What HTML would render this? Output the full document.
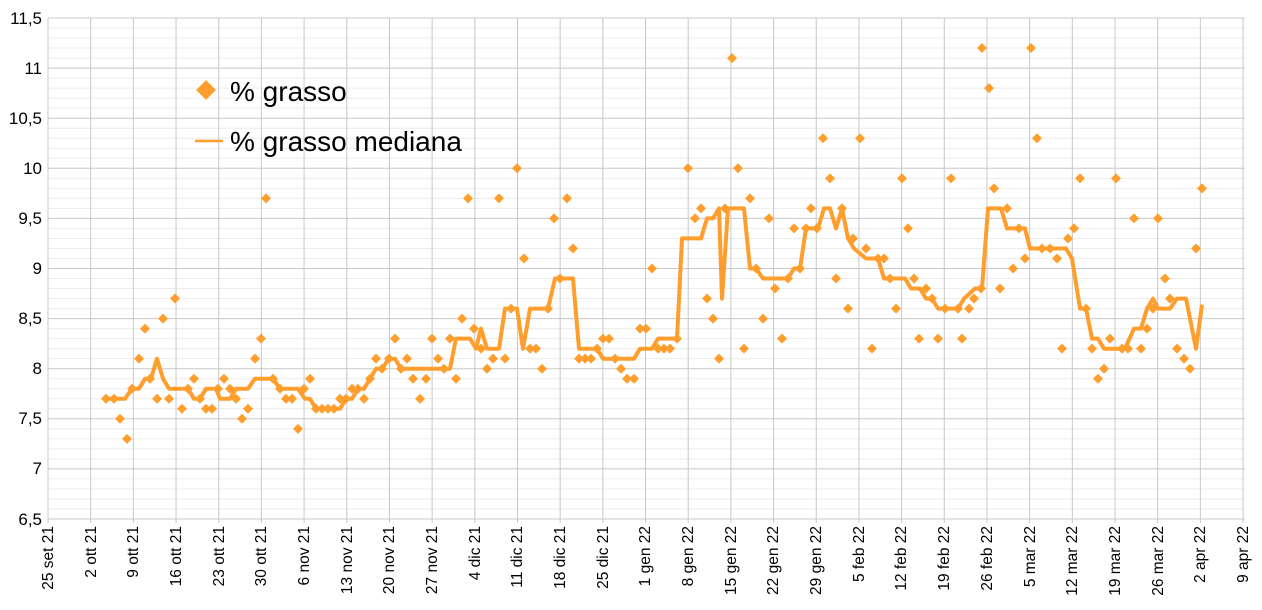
<!DOCTYPE html>
<html><head><meta charset="utf-8"><style>body{margin:0;background:#fff}svg{display:block}text{font-family:"Liberation Sans",sans-serif;fill:#000}</style></head>
<body>
<svg id="s" width="1262" height="610" xmlns="http://www.w3.org/2000/svg">
<g id="grid"></g>
<g font-size="17" text-anchor="end">
<text x="42" y="24">11,5</text><text x="42" y="74">11</text><text x="42" y="124">10,5</text><text x="42" y="174">10</text><text x="42" y="224">9,5</text><text x="42" y="274">9</text><text x="42" y="324">8,5</text><text x="42" y="374">8</text><text x="42" y="424">7,5</text><text x="42" y="474">7</text><text x="42" y="525">6,5</text>
</g>
<g id="xl" font-size="15.5" text-anchor="end">
<text transform="translate(53,526) rotate(-90)">25 set 21</text>
<text transform="translate(96,526) rotate(-90)">2 ott 21</text>
<text transform="translate(138,526) rotate(-90)">9 ott 21</text>
<text transform="translate(181,526) rotate(-90)">16 ott 21</text>
<text transform="translate(224,526) rotate(-90)">23 ott 21</text>
<text transform="translate(266,526) rotate(-90)">30 ott 21</text>
<text transform="translate(309,526) rotate(-90)">6 nov 21</text>
<text transform="translate(352,526) rotate(-90)">13 nov 21</text>
<text transform="translate(394,526) rotate(-90)">20 nov 21</text>
<text transform="translate(437,526) rotate(-90)">27 nov 21</text>
<text transform="translate(480,526) rotate(-90)">4 dic 21</text>
<text transform="translate(522,526) rotate(-90)">11 dic 21</text>
<text transform="translate(565,526) rotate(-90)">18 dic 21</text>
<text transform="translate(608,526) rotate(-90)">25 dic 21</text>
<text transform="translate(650,526) rotate(-90)">1 gen 22</text>
<text transform="translate(693,526) rotate(-90)">8 gen 22</text>
<text transform="translate(736,526) rotate(-90)">15 gen 22</text>
<text transform="translate(778,526) rotate(-90)">22 gen 22</text>
<text transform="translate(821,526) rotate(-90)">29 gen 22</text>
<text transform="translate(864,526) rotate(-90)">5 feb 22</text>
<text transform="translate(906,526) rotate(-90)">12 feb 22</text>
<text transform="translate(949,526) rotate(-90)">19 feb 22</text>
<text transform="translate(992,526) rotate(-90)">26 feb 22</text>
<text transform="translate(1035,526) rotate(-90)">5 mar 22</text>
<text transform="translate(1077,526) rotate(-90)">12 mar 22</text>
<text transform="translate(1120,526) rotate(-90)">19 mar 22</text>
<text transform="translate(1163,526) rotate(-90)">26 mar 22</text>
<text transform="translate(1205,526) rotate(-90)">2 apr 22</text>
<text transform="translate(1248,526) rotate(-90)">9 apr 22</text>
</g>
<g id="data"></g>
<rect x="199" y="83" width="14" height="14" fill="#ff9e2c" transform="rotate(45 206 90)"/>
<text x="230" y="101" font-size="28">% grasso</text>
<line x1="195" y1="141" x2="223" y2="141" stroke="#ff9e2c" stroke-width="2.5"/>
<text x="230" y="151" font-size="28">% grasso mediana</text>
</svg>
<script>
var NS="http://www.w3.org/2000/svg";
function Y(v){return 519-(v-6.5)*100.2;}
function el(p,t,a){var e=document.createElementNS(NS,t);for(var k in a)e.setAttribute(k,a[k]);p.appendChild(e);return e;}
var g=document.getElementById("grid");
for(var i=0;i<=50;i++){var y=Y(6.5+i*0.1);el(g,"line",{x1:48,x2:1245,y1:y,y2:y,stroke:i%5?"#ececec":"#c8c8c8","stroke-width":1});}
for(var k=0;k<=28;k++){var x=48+42.68*k;el(g,"line",{x1:x,x2:x,y1:18,y2:523,stroke:"#c8c8c8","stroke-width":1});}
var pts=[[106,7.7],[114,7.7],[120,7.5],[127,7.3],[132,7.8],[139,8.1],[145,8.4],[150,7.9],[157,7.7],[163,8.5],[169,7.7],[175,8.7],[182,7.6],[188,7.8],[194,7.9],[200,7.7],[206,7.6],[212,7.6],[218,7.8],[224,7.9],[230,7.8],[236,7.7],[242,7.5],[248,7.6],[255,8.1],[261,8.3],[266,9.7],[273,7.9],[280,7.8],[286,7.7],[292,7.7],[298,7.4],[304,7.8],[310,7.9],[316,7.6],[322,7.6],[328,7.6],[334,7.6],[340,7.7],[346,7.7],[352,7.8],[358,7.8],[364,7.7],[370,7.9],[376,8.1],[382,8.0],[389,8.1],[395,8.3],[401,8.0],[407,8.1],[413,7.9],[420,7.7],[426,7.9],[432,8.3],[438,8.1],[444,8.0],[450,8.3],[456,7.9],[462,8.5],[468,9.7],[474,8.4],[481,8.2],[487,8.0],[493,8.1],[499,9.7],[505,8.1],[511,8.6],[517,10.0],[524,9.1],[530,8.2],[536,8.2],[542,8.0],[548,8.6],[554,9.5],[560,8.9],[567,9.7],[573,9.2],[579,8.1],[585,8.1],[591,8.1],[597,8.2],[603,8.3],[609,8.3],[615,8.1],[621,8.0],[627,7.9],[634,7.9],[640,8.4],[646,8.4],[652,9.0],[658,8.2],[664,8.2],[670,8.2],[677,8.3],[688,10.0],[695,9.5],[701,9.6],[707,8.7],[713,8.5],[719,8.1],[725,9.6],[732,11.1],[738,10.0],[744,8.2],[750,9.7],[756,9.0],[763,8.5],[769,9.5],[775,8.8],[782,8.3],[788,8.9],[794,9.4],[800,9.0],[806,9.4],[811,9.6],[817,9.4],[823,10.3],[830,9.9],[836,8.9],[842,9.6],[848,8.6],[853,9.3],[860,10.3],[866,9.2],[872,8.2],[878,9.1],[884,9.1],[890,8.9],[896,8.6],[902,9.9],[908,9.4],[914,8.9],[919,8.3],[926,8.8],[932,8.7],[938,8.3],[945,8.6],[951,9.9],[958,8.6],[962,8.3],[969,8.6],[974,8.7],[981,8.8],[982,11.2],[989,10.8],[994,9.8],[1000,8.8],[1007,9.6],[1013,9.0],[1019,9.4],[1025,9.1],[1031,11.2],[1037,10.3],[1042,9.2],[1050,9.2],[1057,9.1],[1062,8.2],[1068,9.3],[1074,9.4],[1080,9.9],[1086,8.6],[1092,8.2],[1098,7.9],[1104,8.0],[1110,8.3],[1116,9.9],[1122,8.2],[1128,8.2],[1134,9.5],[1141,8.2],[1147,8.4],[1153,8.6],[1158,9.5],[1165,8.9],[1170,8.7],[1177,8.2],[1184,8.1],[1190,8.0],[1196,9.2],[1202,9.8]];
var med=[[103,7.7],[125,7.7],[132,7.8],[139,7.8],[145,7.9],[151,7.9],[157,8.1],[163,7.9],[169,7.8],[182,7.8],[188,7.8],[194,7.7],[200,7.7],[206,7.8],[216,7.8],[220,7.7],[230,7.7],[236,7.8],[248,7.8],[255,7.9],[273,7.9],[280,7.8],[298,7.8],[305,7.7],[310,7.7],[316,7.6],[340,7.6],[346,7.7],[352,7.7],[358,7.8],[364,7.8],[370,7.9],[376,8.0],[382,8.0],[389,8.1],[395,8.1],[401,8.0],[450,8.0],[456,8.3],[470,8.3],[476,8.2],[481,8.4],[487,8.2],[499,8.2],[505,8.6],[517,8.6],[523,8.2],[530,8.6],[548,8.6],[555,8.9],[573,8.9],[579,8.2],[597,8.2],[603,8.1],[634,8.1],[640,8.2],[652,8.2],[658,8.3],[677,8.3],[682,9.3],[701,9.3],[707,9.5],[713,9.5],[719,9.6],[722,8.7],[728,9.6],[744,9.6],[750,9.0],[756,9.0],[763,8.9],[788,8.9],[794,9.0],[800,9.0],[806,9.4],[818,9.4],[824,9.6],[830,9.6],[836,9.4],[842,9.6],[848,9.3],[854,9.2],[866,9.1],[878,9.1],[884,8.9],[905,8.9],[911,8.8],[920,8.8],[926,8.7],[932,8.7],[938,8.6],[958,8.6],[964,8.7],[975,8.8],[982,8.8],[988,9.6],[1001,9.6],[1007,9.4],[1025,9.4],[1030,9.2],[1066,9.2],[1072,9.1],[1080,8.6],[1086,8.6],[1092,8.3],[1098,8.3],[1104,8.2],[1125,8.2],[1134,8.4],[1141,8.4],[1147,8.6],[1153,8.7],[1158,8.6],[1170,8.6],[1177,8.7],[1186,8.7],[1196,8.2],[1202,8.64]];
var d=document.getElementById("data");
el(d,"polyline",{points:med.map(function(p){return p[0]+","+Y(p[1]).toFixed(1)}).join(" "),fill:"none",stroke:"#ff9e2c","stroke-width":4,"stroke-linejoin":"round"});
pts.forEach(function(p){var x=p[0],y=Y(p[1]);el(d,"polygon",{points:(x-5)+","+y+" "+x+","+(y-5)+" "+(x+5)+","+y+" "+x+","+(y+5),fill:"#ff9e2c"});});
</script>
</body></html>
